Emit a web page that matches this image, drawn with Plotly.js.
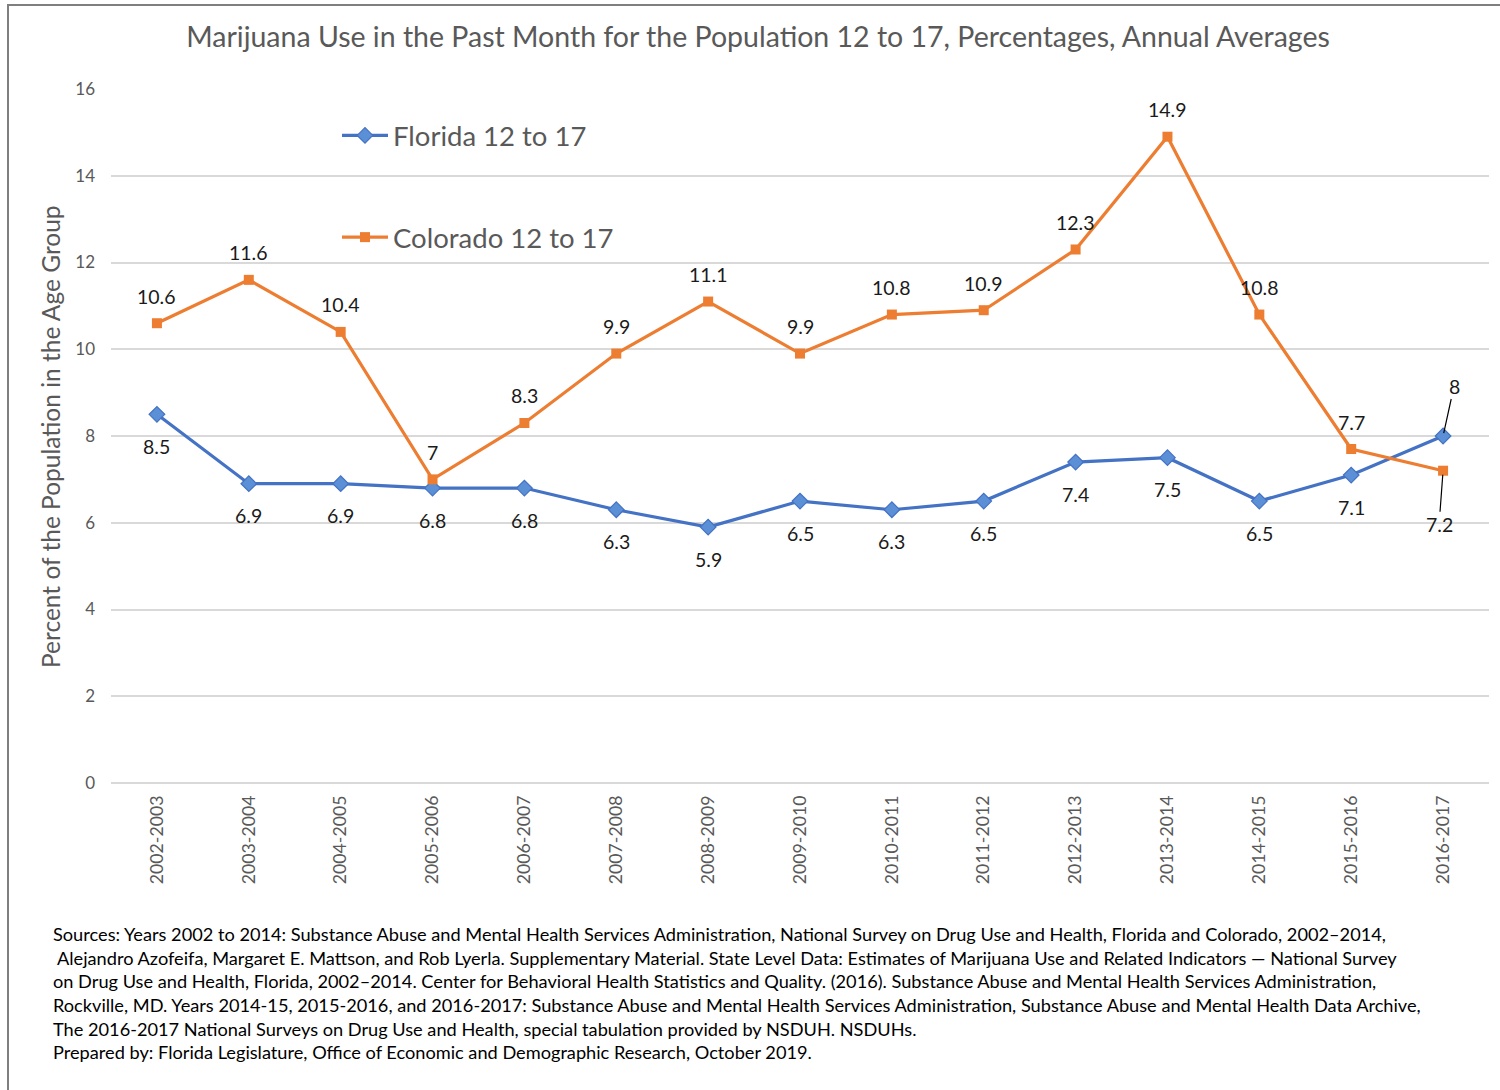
<!DOCTYPE html>
<html>
<head>
<meta charset="utf-8">
<script src="https://cdn.plot.ly/plotly-3.0.1.min.js"></script>
<style>
  html, body { margin: 0; padding: 0; background: #fff; }
  #wrap { position: absolute; left: 0; top: 0; width: 1500px; height: 1090px; }
  #frame { position: absolute; left: 7px; top: 4px; width: 1493px; height: 1086px;
           border-left: 2px solid #7f7f7f; border-top: 2px solid #7f7f7f; pointer-events: none; z-index: 5; }
  #chart { position: absolute; left: 0; top: 0; width: 1500px; height: 1090px; }
</style>
</head>
<body>
<div id="wrap">
  <div id="chart"></div>
  <div id="frame"></div>
</div>
<script>
const categories = ["2002-2003","2003-2004","2004-2005","2005-2006","2006-2007","2007-2008","2008-2009","2009-2010","2010-2011","2011-2012","2012-2013","2013-2014","2014-2015","2015-2016","2016-2017"];
const florida = [8.5, 6.9, 6.9, 6.8, 6.8, 6.3, 5.9, 6.5, 6.3, 6.5, 7.4, 7.5, 6.5, 7.1, 8];
const colorado = [10.6, 11.6, 10.4, 7, 8.3, 9.9, 11.1, 9.9, 10.8, 10.9, 12.3, 14.9, 10.8, 7.7, 7.2];
const yTicks = [0, 2, 4, 6, 8, 10, 12, 14, 16];

const titleText = "Marijuana Use in the Past Month for the Population 12 to 17, Percentages, Annual Averages";
const yTitle = "Percent of the Population in the Age Group";
const sourceLines = [
  "Sources: Years 2002 to 2014: Substance Abuse and Mental Health Services Administration, National Survey on Drug Use and Health, Florida and Colorado, 2002\u20132014,",
  "&nbsp;Alejandro Azofeifa, Margaret E. Mattson, and Rob Lyerla. Supplementary Material. State Level Data: Estimates of Marijuana Use and Related Indicators \u2014 National Survey",
  "on Drug Use and Health, Florida, 2002\u20132014. Center for Behavioral Health Statistics and Quality. (2016). Substance Abuse and Mental Health Services Administration,",
  "Rockville, MD. Years 2014-15, 2015-2016, and 2016-2017: Substance Abuse and Mental Health Services Administration, Substance Abuse and Mental Health Data Archive,",
  "The 2016-2017 National Surveys on Drug Use and Health, special tabulation provided by NSDUH. NSDUHs.",
  "Prepared by: Florida Legislature, Office of Economic and Demographic Research, October 2019."
];

const FONT = "Lato, 'Open Sans', sans-serif";
const BLUE = "#4472C4", ORANGE = "#ED7D31";

const traces = [
  { type: "scatter", mode: "lines+markers", name: "Florida 12 to 17", x: categories, y: florida,
    legendgroup: "fl",
    line: { color: BLUE, width: 3.2 },
    marker: { symbol: "diamond", size: 12, color: "#5B8FD6", line: { color: BLUE, width: 1.2 } } },
  { type: "scatter", mode: "lines+markers", name: "Colorado 12 to 17", x: categories, y: colorado,
    legendgroup: "co",
    line: { color: ORANGE, width: 3.2 },
    marker: { symbol: "square", size: 10, color: ORANGE } }
];

const annotations = [];
const last = categories.length - 1;
const labFont = { family: FONT, size: 19.5, color: "#1a1a1a" };
categories.forEach((c, i) => {
  if (i === last) {
    annotations.push({ x: c, y: florida[i], text: String(florida[i]), showarrow: true, arrowhead: 0,
      arrowwidth: 1.2, arrowcolor: "#000", ax: 11, ay: -50, standoff: 3, font: labFont });
    annotations.push({ x: c, y: colorado[i], text: String(colorado[i]), showarrow: true, arrowhead: 0,
      arrowwidth: 1.2, arrowcolor: "#000", ax: -4, ay: 54, standoff: 4, font: labFont });
  } else {
    annotations.push({ x: c, y: florida[i], text: String(florida[i]), showarrow: false, yshift: -32, font: labFont });
    annotations.push({ x: c, y: colorado[i], text: String(colorado[i]), showarrow: false, yshift: 27, font: labFont });
  }
});

annotations.push({
  xref: "paper", yref: "paper", x: -0.0443, y: 0.5, textangle: -90, showarrow: false,
  text: yTitle, font: { family: FONT, size: 24.5, color: "#595959" }, xanchor: "center", yanchor: "middle"
});

annotations.push({
  xref: "paper", yref: "paper", x: (51 - 111) / 1378, y: (783 - 921) / 694, xanchor: "left", yanchor: "top",
  align: "left", showarrow: false, text: sourceLines.join("<br>"),
  font: { family: FONT, size: 18.2, color: "#000" }
});

const layout = {
  width: 1500, height: 1090,
  margin: { l: 111, r: 11, t: 89, b: 307 },
  paper_bgcolor: "#fff", plot_bgcolor: "#fff",
  font: { family: FONT },
  title: { text: titleText, xref: "paper", x: (758 - 111) / 1378, xanchor: "center",
           yref: "container", y: 1 - 37 / 1090, yanchor: "middle",
           font: { family: FONT, size: 28.5, color: "#595959" } },
  xaxis: { type: "category", range: [-0.5, categories.length - 0.5], tickangle: -90, showgrid: false, showline: false, ticks: "",
           tickfont: { family: FONT, size: 17.7, color: "#595959" }, automargin: false, ticklabelstandoff: 8 },
  yaxis: { range: [0, 16], tickvals: yTicks, showgrid: true, gridcolor: "#d9d9d9", gridwidth: 2,
           zeroline: true, zerolinecolor: "#d9d9d9", zerolinewidth: 2, showline: false, ticks: "",
           tickfont: { family: FONT, size: 17, color: "#595959" }, automargin: false, ticklabelstandoff: 15 },
  showlegend: true,
  legend: { x: (337 - 111) / 1378, y: (783 - 111) / 694, xanchor: "left", yanchor: "top",
            bgcolor: "rgba(0,0,0,0)", tracegroupgap: 63, itemwidth: 46,
            font: { family: FONT, size: 27.5, color: "#595959" } },
  annotations: annotations
};

Plotly.newPlot("chart", traces, layout, { displayModeBar: false, staticPlot: true });
</script>
</body>
</html>
